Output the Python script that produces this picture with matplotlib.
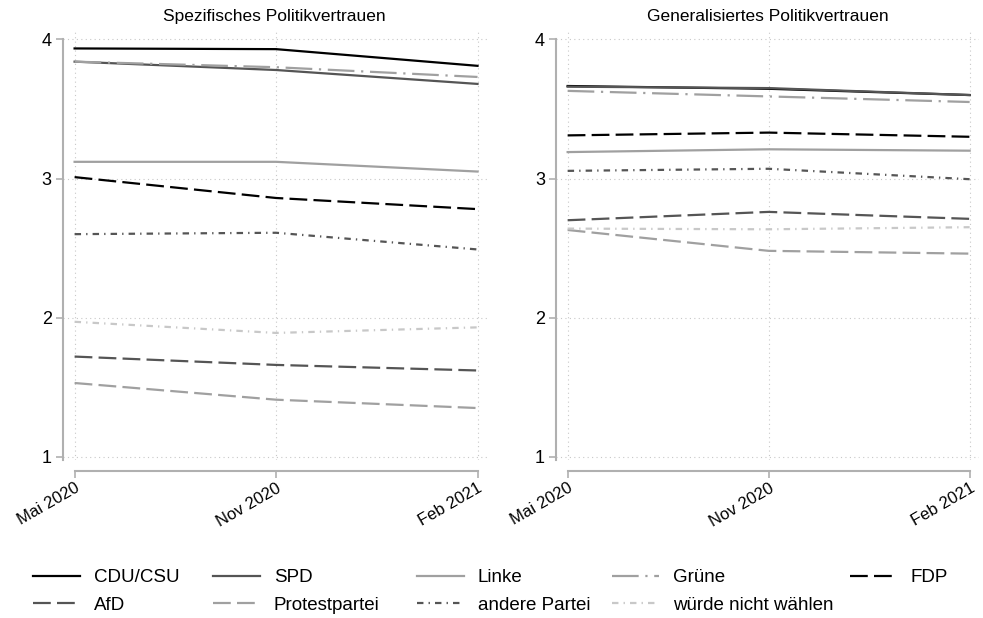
import matplotlib
matplotlib.use("Agg")
import matplotlib.pyplot as plt

plt.rcParams['font.family'] = ['Liberation Sans', 'DejaVu Sans']

waves = ["Mai 2020", "Nov 2020", "Feb 2021"]
parties = ["CDU/CSU", "SPD", "Linke", "Grüne", "FDP",
           "AfD", "Protestpartei", "andere Partei", "würde nicht wählen"]
yticks = [1, 2, 3, 4]

spez_cdu = [3.935, 3.93, 3.81]
spez_spd = [3.84, 3.78, 3.68]
spez_linke = [3.12, 3.12, 3.05]
spez_gruene = [3.84, 3.80, 3.73]
spez_fdp = [3.01, 2.86, 2.78]
spez_afd = [1.72, 1.66, 1.62]
spez_protest = [1.53, 1.41, 1.35]
spez_andere = [2.60, 2.61, 2.49]
spez_nicht = [1.97, 1.89, 1.93]

gen_cdu = [3.665, 3.645, 3.60]
gen_spd = [3.66, 3.65, 3.60]
gen_linke = [3.19, 3.21, 3.20]
gen_gruene = [3.63, 3.59, 3.55]
gen_fdp = [3.31, 3.33, 3.30]
gen_afd = [2.70, 2.76, 2.71]
gen_protest = [2.63, 2.48, 2.46]
gen_andere = [3.055, 3.07, 2.995]
gen_nicht = [2.64, 2.635, 2.65]

spez = [spez_cdu, spez_spd, spez_linke, spez_gruene, spez_fdp,
        spez_afd, spez_protest, spez_andere, spez_nicht]
gen = [gen_cdu, gen_spd, gen_linke, gen_gruene, gen_fdp,
       gen_afd, gen_protest, gen_andere, gen_nicht]

LW = 1.6
dash = (0, (8, 2.8))
dashdot = (0, (2.9, 2.3, 0.6, 2.3))
longdot = (0, (12, 3, 1, 3))
styles = [
    dict(color="#000000", ls="-"),
    dict(color="#555555", ls="-"),
    dict(color="#a0a0a0", ls="-"),
    dict(color="#a0a0a0", ls=longdot),
    dict(color="#000000", ls=dash),
    dict(color="#555555", ls=dash),
    dict(color="#a0a0a0", ls=dash),
    dict(color="#555555", ls=dashdot),
    dict(color="#c8c8c8", ls=dashdot),
]

fig = plt.figure(figsize=(9.83, 6.18), dpi=100)
axL = fig.add_axes([0.064, 0.256, 0.431, 0.696])
axR = fig.add_axes([0.5656, 0.256, 0.430, 0.696])

x = list(range(len(waves)))
handles = []
for ax, data, title in [(axL, spez, "Spezifisches Politikvertrauen"),
                        (axR, gen, "Generalisiertes Politikvertrauen")]:
    for s in ["top", "right"]:
        ax.spines[s].set_visible(False)
    for s in ["left", "bottom"]:
        ax.spines[s].set_color("#b0b0b0")
        ax.spines[s].set_linewidth(1.5)
    ax.spines["bottom"].set_position(("outward", 8))

    hs = []
    for vals, st, lab in zip(data, styles, parties):
        h, = ax.plot(x, vals, label=lab, lw=LW, **st)
        hs.append(h)
    handles = hs
    ax.set_xlim(-0.058, 2.045)
    ax.set_ylim(0.978, 4.07)
    ax.spines["bottom"].set_bounds(0, 2)
    ax.spines["left"].set_bounds(0.978, 4)
    ax.set_xticks(x)
    ax.set_yticks(yticks)
    ax.tick_params(axis="both", colors="#b0b0b0", labelcolor="black", width=1.2, length=5)
    ax.tick_params(axis="y", pad=3, labelsize=13)
    ax.tick_params(axis="x", pad=2, labelsize=12)
    ax.set_xticklabels(waves, rotation=30, ha="right", va="top",
                       rotation_mode="anchor")
    ax.set_yticklabels([str(v) for v in yticks])
    ax.grid(True, color="#c8c8c8", ls=(0, (1, 3)), lw=0.8)
    ax.set_title(title, fontsize=12.5, pad=6)

order_cols = [[0, 5], [1, 6], [2, 7], [3, 8], [4]]
col_x = [33, 213, 417, 612, 850]
for cols, cx in zip(order_cols, col_x):
    fig.legend([handles[i] for i in cols], [parties[i] for i in cols],
               loc="upper left", bbox_to_anchor=(cx / 983, 1 - 569 / 618),
               frameon=False, fontsize=13.5, handlelength=2.5, handletextpad=0.75,
               labelspacing=0.55, borderaxespad=0, borderpad=0)

fig.savefig("out.png", dpi=100)
